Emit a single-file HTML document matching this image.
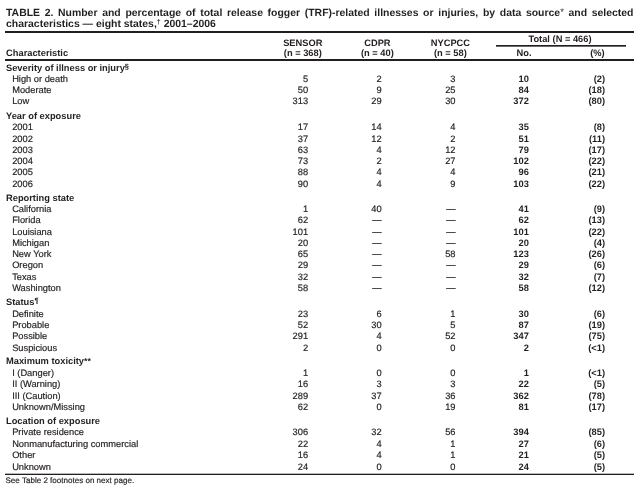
<!DOCTYPE html>
<html><head><meta charset="utf-8"><title>TABLE 2</title>
<style>
html,body{margin:0;padding:0;background:#fff;}
body{width:641px;height:490px;position:relative;overflow:hidden;font-family:"Liberation Sans",sans-serif;color:#231f20;-webkit-text-stroke:0.18px #231f20;text-rendering:geometricPrecision;}
.t{position:absolute;font-size:9.3px;line-height:12px;height:12px;white-space:nowrap;}
.b{font-weight:bold;-webkit-text-stroke:0;}
sup{font-size:7.5px;vertical-align:baseline;position:relative;top:-2.3px;line-height:0;}
.st{font-weight:bold;font-size:8.8px;position:relative;top:0.2px;}
.rule{position:absolute;background:#231f20;}
.title{position:absolute;left:6px;width:627.5px;font-size:10.45px;line-height:12px;height:12px;font-weight:bold;white-space:nowrap;-webkit-text-stroke:0;}
.ast{font-size:9.5px;font-weight:normal;position:relative;top:-1.2px}
.title sup{font-size:7px;top:-3px;}
.fn{position:absolute;left:5.5px;top:475.5px;font-size:8.05px;line-height:10px;white-space:nowrap;}
</style></head><body>
<div class="title" style="top:8px;text-align-last:justify">TABLE 2. Number and percentage of total release fogger (TRF)-related illnesses or injuries, by data source<span class="ast">*</span> and selected</div>
<div class="title" style="top:19px;text-align:left">characteristics — eight states,<sup>†</sup> 2001–2006</div>
<div class="rule" style="left:5px;width:629px;top:31px;height:2px"></div>
<div class="rule" style="left:5px;width:629px;top:59px;height:2px"></div>
<div class="rule" style="left:5px;width:629px;top:473px;height:1px;background:#b9b8b8"></div>
<div class="rule" style="left:5px;width:629px;top:474px;height:1px"></div>
<div class="rule" style="left:496px;width:130px;top:45px;height:1px"></div>
<div class="rule" style="left:496px;width:130px;top:46px;height:1px;background:#6b6969"></div>
<div class="t b" style="top:62.01px;left:6.0px;">Severity of illness or injury<sup>§</sup></div>
<div class="t " style="top:73.01px;left:12.15px;">High or death</div>
<div class="t " style="top:73.01px;right:332.9px;">5</div>
<div class="t " style="top:73.01px;right:259.4px;">2</div>
<div class="t " style="top:73.01px;right:185.5px;">3</div>
<div class="t b" style="top:73.01px;right:112.20000000000005px;">10</div>
<div class="t b" style="top:73.01px;right:36px;">(2)</div>
<div class="t " style="top:84.01px;left:12.15px;">Moderate</div>
<div class="t " style="top:84.01px;right:332.9px;">50</div>
<div class="t " style="top:84.01px;right:259.4px;">9</div>
<div class="t " style="top:84.01px;right:185.5px;">25</div>
<div class="t b" style="top:84.01px;right:112.20000000000005px;">84</div>
<div class="t b" style="top:84.01px;right:36px;">(18)</div>
<div class="t " style="top:95.01px;left:12.15px;">Low</div>
<div class="t " style="top:95.01px;right:332.9px;">313</div>
<div class="t " style="top:95.01px;right:259.4px;">29</div>
<div class="t " style="top:95.01px;right:185.5px;">30</div>
<div class="t b" style="top:95.01px;right:112.20000000000005px;">372</div>
<div class="t b" style="top:95.01px;right:36px;">(80)</div>
<div class="t b" style="top:110.01px;left:6.0px;">Year of exposure</div>
<div class="t " style="top:121.01px;left:12.15px;">2001</div>
<div class="t " style="top:121.01px;right:332.9px;">17</div>
<div class="t " style="top:121.01px;right:259.4px;">14</div>
<div class="t " style="top:121.01px;right:185.5px;">4</div>
<div class="t b" style="top:121.01px;right:112.20000000000005px;">35</div>
<div class="t b" style="top:121.01px;right:36px;">(8)</div>
<div class="t " style="top:133.01px;left:12.15px;">2002</div>
<div class="t " style="top:133.01px;right:332.9px;">37</div>
<div class="t " style="top:133.01px;right:259.4px;">12</div>
<div class="t " style="top:133.01px;right:185.5px;">2</div>
<div class="t b" style="top:133.01px;right:112.20000000000005px;">51</div>
<div class="t b" style="top:133.01px;right:36px;">(11)</div>
<div class="t " style="top:144.01px;left:12.15px;">2003</div>
<div class="t " style="top:144.01px;right:332.9px;">63</div>
<div class="t " style="top:144.01px;right:259.4px;">4</div>
<div class="t " style="top:144.01px;right:185.5px;">12</div>
<div class="t b" style="top:144.01px;right:112.20000000000005px;">79</div>
<div class="t b" style="top:144.01px;right:36px;">(17)</div>
<div class="t " style="top:155.01px;left:12.15px;">2004</div>
<div class="t " style="top:155.01px;right:332.9px;">73</div>
<div class="t " style="top:155.01px;right:259.4px;">2</div>
<div class="t " style="top:155.01px;right:185.5px;">27</div>
<div class="t b" style="top:155.01px;right:112.20000000000005px;">102</div>
<div class="t b" style="top:155.01px;right:36px;">(22)</div>
<div class="t " style="top:166.01px;left:12.15px;">2005</div>
<div class="t " style="top:166.01px;right:332.9px;">88</div>
<div class="t " style="top:166.01px;right:259.4px;">4</div>
<div class="t " style="top:166.01px;right:185.5px;">4</div>
<div class="t b" style="top:166.01px;right:112.20000000000005px;">96</div>
<div class="t b" style="top:166.01px;right:36px;">(21)</div>
<div class="t " style="top:178.01px;left:12.15px;">2006</div>
<div class="t " style="top:178.01px;right:332.9px;">90</div>
<div class="t " style="top:178.01px;right:259.4px;">4</div>
<div class="t " style="top:178.01px;right:185.5px;">9</div>
<div class="t b" style="top:178.01px;right:112.20000000000005px;">103</div>
<div class="t b" style="top:178.01px;right:36px;">(22)</div>
<div class="t b" style="top:192.01px;left:6.0px;">Reporting state</div>
<div class="t " style="top:203.01px;left:12.15px;">California</div>
<div class="t " style="top:203.01px;right:332.9px;">1</div>
<div class="t " style="top:203.01px;right:259.4px;">40</div>
<div class="t " style="top:203.01px;right:185.5px;">—</div>
<div class="t b" style="top:203.01px;right:112.20000000000005px;">41</div>
<div class="t b" style="top:203.01px;right:36px;">(9)</div>
<div class="t " style="top:214.01px;left:12.15px;">Florida</div>
<div class="t " style="top:214.01px;right:332.9px;">62</div>
<div class="t " style="top:214.01px;right:259.4px;">—</div>
<div class="t " style="top:214.01px;right:185.5px;">—</div>
<div class="t b" style="top:214.01px;right:112.20000000000005px;">62</div>
<div class="t b" style="top:214.01px;right:36px;">(13)</div>
<div class="t " style="top:226.01px;left:12.15px;">Louisiana</div>
<div class="t " style="top:226.01px;right:332.9px;">101</div>
<div class="t " style="top:226.01px;right:259.4px;">—</div>
<div class="t " style="top:226.01px;right:185.5px;">—</div>
<div class="t b" style="top:226.01px;right:112.20000000000005px;">101</div>
<div class="t b" style="top:226.01px;right:36px;">(22)</div>
<div class="t " style="top:237.01px;left:12.15px;">Michigan</div>
<div class="t " style="top:237.01px;right:332.9px;">20</div>
<div class="t " style="top:237.01px;right:259.4px;">—</div>
<div class="t " style="top:237.01px;right:185.5px;">—</div>
<div class="t b" style="top:237.01px;right:112.20000000000005px;">20</div>
<div class="t b" style="top:237.01px;right:36px;">(4)</div>
<div class="t " style="top:248.01px;left:12.15px;">New York</div>
<div class="t " style="top:248.01px;right:332.9px;">65</div>
<div class="t " style="top:248.01px;right:259.4px;">—</div>
<div class="t " style="top:248.01px;right:185.5px;">58</div>
<div class="t b" style="top:248.01px;right:112.20000000000005px;">123</div>
<div class="t b" style="top:248.01px;right:36px;">(26)</div>
<div class="t " style="top:259.01px;left:12.15px;">Oregon</div>
<div class="t " style="top:259.01px;right:332.9px;">29</div>
<div class="t " style="top:259.01px;right:259.4px;">—</div>
<div class="t " style="top:259.01px;right:185.5px;">—</div>
<div class="t b" style="top:259.01px;right:112.20000000000005px;">29</div>
<div class="t b" style="top:259.01px;right:36px;">(6)</div>
<div class="t " style="top:271.01px;left:12.15px;">Texas</div>
<div class="t " style="top:271.01px;right:332.9px;">32</div>
<div class="t " style="top:271.01px;right:259.4px;">—</div>
<div class="t " style="top:271.01px;right:185.5px;">—</div>
<div class="t b" style="top:271.01px;right:112.20000000000005px;">32</div>
<div class="t b" style="top:271.01px;right:36px;">(7)</div>
<div class="t " style="top:282.01px;left:12.15px;">Washington</div>
<div class="t " style="top:282.01px;right:332.9px;">58</div>
<div class="t " style="top:282.01px;right:259.4px;">—</div>
<div class="t " style="top:282.01px;right:185.5px;">—</div>
<div class="t b" style="top:282.01px;right:112.20000000000005px;">58</div>
<div class="t b" style="top:282.01px;right:36px;">(12)</div>
<div class="t b" style="top:296.01px;left:6.0px;">Status<sup>¶</sup></div>
<div class="t " style="top:308.01px;left:12.15px;">Definite</div>
<div class="t " style="top:308.01px;right:332.9px;">23</div>
<div class="t " style="top:308.01px;right:259.4px;">6</div>
<div class="t " style="top:308.01px;right:185.5px;">1</div>
<div class="t b" style="top:308.01px;right:112.20000000000005px;">30</div>
<div class="t b" style="top:308.01px;right:36px;">(6)</div>
<div class="t " style="top:319.01px;left:12.15px;">Probable</div>
<div class="t " style="top:319.01px;right:332.9px;">52</div>
<div class="t " style="top:319.01px;right:259.4px;">30</div>
<div class="t " style="top:319.01px;right:185.5px;">5</div>
<div class="t b" style="top:319.01px;right:112.20000000000005px;">87</div>
<div class="t b" style="top:319.01px;right:36px;">(19)</div>
<div class="t " style="top:330.01px;left:12.15px;">Possible</div>
<div class="t " style="top:330.01px;right:332.9px;">291</div>
<div class="t " style="top:330.01px;right:259.4px;">4</div>
<div class="t " style="top:330.01px;right:185.5px;">52</div>
<div class="t b" style="top:330.01px;right:112.20000000000005px;">347</div>
<div class="t b" style="top:330.01px;right:36px;">(75)</div>
<div class="t " style="top:342.01px;left:12.15px;">Suspicious</div>
<div class="t " style="top:342.01px;right:332.9px;">2</div>
<div class="t " style="top:342.01px;right:259.4px;">0</div>
<div class="t " style="top:342.01px;right:185.5px;">0</div>
<div class="t b" style="top:342.01px;right:112.20000000000005px;">2</div>
<div class="t b" style="top:342.01px;right:36px;">(&lt;1)</div>
<div class="t b" style="top:355.01px;left:6.0px;">Maximum toxicity<span class="st">**</span></div>
<div class="t " style="top:367.01px;left:12.15px;">I (Danger)</div>
<div class="t " style="top:367.01px;right:332.9px;">1</div>
<div class="t " style="top:367.01px;right:259.4px;">0</div>
<div class="t " style="top:367.01px;right:185.5px;">0</div>
<div class="t b" style="top:367.01px;right:112.20000000000005px;">1</div>
<div class="t b" style="top:367.01px;right:36px;">(&lt;1)</div>
<div class="t " style="top:378.01px;left:12.15px;">II (Warning)</div>
<div class="t " style="top:378.01px;right:332.9px;">16</div>
<div class="t " style="top:378.01px;right:259.4px;">3</div>
<div class="t " style="top:378.01px;right:185.5px;">3</div>
<div class="t b" style="top:378.01px;right:112.20000000000005px;">22</div>
<div class="t b" style="top:378.01px;right:36px;">(5)</div>
<div class="t " style="top:390.01px;left:12.15px;">III (Caution)</div>
<div class="t " style="top:390.01px;right:332.9px;">289</div>
<div class="t " style="top:390.01px;right:259.4px;">37</div>
<div class="t " style="top:390.01px;right:185.5px;">36</div>
<div class="t b" style="top:390.01px;right:112.20000000000005px;">362</div>
<div class="t b" style="top:390.01px;right:36px;">(78)</div>
<div class="t " style="top:401.01px;left:12.15px;">Unknown/Missing</div>
<div class="t " style="top:401.01px;right:332.9px;">62</div>
<div class="t " style="top:401.01px;right:259.4px;">0</div>
<div class="t " style="top:401.01px;right:185.5px;">19</div>
<div class="t b" style="top:401.01px;right:112.20000000000005px;">81</div>
<div class="t b" style="top:401.01px;right:36px;">(17)</div>
<div class="t b" style="top:415.01px;left:6.0px;">Location of exposure</div>
<div class="t " style="top:426.01px;left:12.15px;">Private residence</div>
<div class="t " style="top:426.01px;right:332.9px;">306</div>
<div class="t " style="top:426.01px;right:259.4px;">32</div>
<div class="t " style="top:426.01px;right:185.5px;">56</div>
<div class="t b" style="top:426.01px;right:112.20000000000005px;">394</div>
<div class="t b" style="top:426.01px;right:36px;">(85)</div>
<div class="t " style="top:438.01px;left:12.15px;">Nonmanufacturing commercial</div>
<div class="t " style="top:438.01px;right:332.9px;">22</div>
<div class="t " style="top:438.01px;right:259.4px;">4</div>
<div class="t " style="top:438.01px;right:185.5px;">1</div>
<div class="t b" style="top:438.01px;right:112.20000000000005px;">27</div>
<div class="t b" style="top:438.01px;right:36px;">(6)</div>
<div class="t " style="top:449.01px;left:12.15px;">Other</div>
<div class="t " style="top:449.01px;right:332.9px;">16</div>
<div class="t " style="top:449.01px;right:259.4px;">4</div>
<div class="t " style="top:449.01px;right:185.5px;">1</div>
<div class="t b" style="top:449.01px;right:112.20000000000005px;">21</div>
<div class="t b" style="top:449.01px;right:36px;">(5)</div>
<div class="t " style="top:461.01px;left:12.15px;">Unknown</div>
<div class="t " style="top:461.01px;right:332.9px;">24</div>
<div class="t " style="top:461.01px;right:259.4px;">0</div>
<div class="t " style="top:461.01px;right:185.5px;">0</div>
<div class="t b" style="top:461.01px;right:112.20000000000005px;">24</div>
<div class="t b" style="top:461.01px;right:36px;">(5)</div>
<div class="t b" style="top:47.01px;left:6.1px;">Characteristic</div>
<div class="t b" style="top:37.01px;left:202.8px;width:200px;text-align:center;">SENSOR</div>
<div class="t b" style="top:47.01px;left:202.8px;width:200px;text-align:center;">(n = 368)</div>
<div class="t b" style="top:37.01px;left:277.4px;width:200px;text-align:center;">CDPR</div>
<div class="t b" style="top:47.01px;left:277.4px;width:200px;text-align:center;">(n = 40)</div>
<div class="t b" style="top:37.01px;left:350.4px;width:200px;text-align:center;">NYCPCC</div>
<div class="t b" style="top:47.01px;left:350.4px;width:200px;text-align:center;">(n = 58)</div>
<div class="t b" style="top:33.01px;left:460px;width:200px;text-align:center;">Total (N = 466)</div>
<div class="t b" style="top:47.01px;left:424px;width:200px;text-align:center;">No.</div>
<div class="t b" style="top:47.01px;left:497.4px;width:200px;text-align:center;">(%)</div>
<div class="fn">See Table 2 footnotes on next page.</div>
</body></html>
